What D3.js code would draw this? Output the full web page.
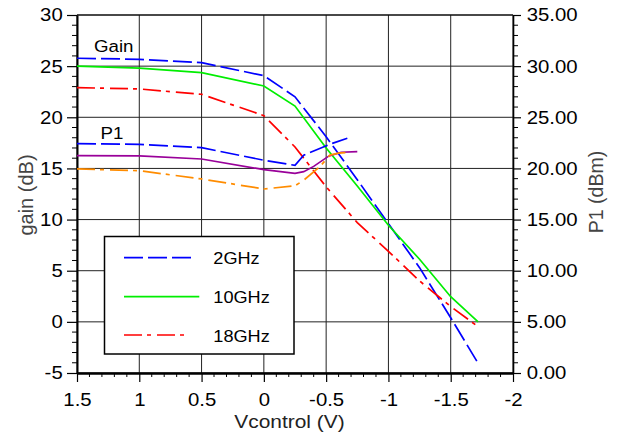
<!DOCTYPE html>
<html>
<head>
<meta charset="utf-8">
<script src="https://cdn.jsdelivr.net/npm/d3@7"></script>
<style>
  body { margin: 0; background: #fff; }
  svg { display: block; font-family: "Liberation Sans", Arial, sans-serif; }
</style>
</head>
<body>
<svg width="622" height="439"></svg>
<script>
// gain curves (left axis, dB), sampled at the same control voltages
const vGain = [1.5, 1, 0.5, 0, -0.25, -0.5, -0.75, -1, -1.25, -1.5, -1.72];
const gain2 = [25.77, 25.67, 25.34, 24.07, 22.0, 18.1, 13.9, 9.6, 5.3, 0.4, -4.05];
const gain10 = [25.0, 24.8, 24.36, 23.06, 21.1, 17.0, 13.28, 9.44, 6.12, 2.46, 0.0];
const gain18 = [22.9, 22.77, 22.25, 20.16, 17.1, 13.2, 9.7, 6.9, 4.0, 1.5, -0.47];

// P1 curves (right axis, dBm)
const vP1_2 = [1.5, 1, 0.5, 0, -0.25, -0.32, -0.55, -0.67];
const p1_2 = [22.42, 22.36, 22.03, 20.8, 20.3, 21.3, 22.45, 22.95];
const vP1_10 = [1.5, 1, 0.5, 0, -0.25, -0.32, -0.4, -0.52, -0.62, -0.75];
const p1_10 = [21.25, 21.22, 20.92, 19.88, 19.52, 19.68, 20.2, 21.2, 21.58, 21.64];
const vP1_18 = [1.5, 1, 0.5, 0, -0.25, -0.32, -0.45, -0.53, -0.6, -0.67];
const p1_18 = [19.95, 19.78, 18.97, 17.99, 18.3, 18.85, 20.17, 21.3, 21.5, 21.55];

const xTicks = [1.5, 1, 0.5, 0, -0.5, -1, -1.5, -2];
const gainTicks = [-5, 0, 5, 10, 15, 20, 25, 30];
const p1Ticks = [0, 5, 10, 15, 20, 25, 30, 35];
const legendLabels = ['2GHz', '10GHz', '18GHz'];

const blue = '#0000ff', green = '#00ee00', red = '#ff0000';
const purple = '#990099', orange = '#ff8c00';
const dashed = '19,5', dashDot = '18,5,4,6';

let svg = d3.select('svg');

let x = d3.scaleLinear().domain([1.5, -2]).range([77, 513]);
let yL = d3.scaleLinear().domain([-5, 30]).range([373, 15]);
let yR = d3.scaleLinear().domain([0, 35]).range([373, 15]);

// grid
let grid = svg.append('g').attr('stroke', '#222').attr('stroke-width', 1);
xTicks.forEach(v => {
  grid.append('line').attr('x1', x(v)).attr('x2', x(v)).attr('y1', yL(30)).attr('y2', yL(-5));
});
gainTicks.forEach(v => {
  grid.append('line').attr('x1', x(1.5)).attr('x2', x(-2)).attr('y1', yL(v)).attr('y2', yL(v));
});

// minor ticks
let minor = svg.append('g').attr('stroke', '#000').attr('stroke-width', 1);
d3.range(-5, 31).filter(v => v % 5 !== 0).forEach(v => {
  minor.append('line').attr('x1', x(1.5) - 5).attr('x2', x(1.5)).attr('y1', yL(v)).attr('y2', yL(v));
});
d3.range(0, 36).filter(v => v % 5 !== 0).forEach(v => {
  minor.append('line').attr('x1', x(-2)).attr('x2', x(-2) + 5).attr('y1', yR(v)).attr('y2', yR(v));
});
d3.range(-20, 16).filter(v => v % 5 !== 0).forEach(v => {
  minor.append('line').attr('x1', x(v / 10)).attr('x2', x(v / 10)).attr('y1', yL(-5)).attr('y2', yL(-5) + 4);
});

// axes
function styleAxis(g, width) {
  g.select('.domain').attr('stroke', '#000').attr('stroke-width', width);
  g.selectAll('.tick line').attr('stroke', '#000').attr('stroke-width', 1.2);
  g.selectAll('.tick text')
    .attr('fill', '#000')
    .attr('font-size', '18.5px')
    .attr('transform', 'scale(1.1,1)');
}

svg.append('g')
  .attr('transform', `translate(${x(1.5)},0)`)
  .call(d3.axisLeft(yL).tickValues(gainTicks).tickFormat(d => String(d)).tickSize(10).tickSizeOuter(0).tickPadding(3))
  .call(g => styleAxis(g, 2))
  .attr('font-family', null);

svg.append('g')
  .attr('transform', `translate(${x(-2)},0)`)
  .call(d3.axisRight(yR).tickValues(p1Ticks).tickFormat(d3.format('.2f')).tickSize(8).tickSizeOuter(0).tickPadding(4.5))
  .call(g => styleAxis(g, 1.6))
  .attr('font-family', null);

svg.append('g')
  .attr('transform', `translate(0,${yL(-5)})`)
  .call(d3.axisBottom(x).tickValues(xTicks).tickFormat(d => String(d)).tickSize(9).tickSizeOuter(0).tickPadding(10.5))
  .call(g => styleAxis(g, 2.4))
  .attr('font-family', null);

// top border
svg.append('line')
  .attr('x1', x(1.5)).attr('x2', x(-2)).attr('y1', yL(30)).attr('y2', yL(30))
  .attr('stroke', '#000').attr('stroke-width', 1.2);

// axis titles
svg.append('text')
  .attr('transform', 'translate(289.5,428) scale(1.1,1)')
  .attr('text-anchor', 'middle').attr('font-size', '19px').attr('fill', '#222')
  .text('Vcontrol (V)');
svg.append('text')
  .attr('transform', 'translate(33,195) rotate(-90)')
  .attr('text-anchor', 'middle').attr('font-size', '20px').attr('fill', '#444')
  .text('gain (dB)');
svg.append('text')
  .attr('transform', 'translate(603,192) rotate(-90)')
  .attr('text-anchor', 'middle').attr('font-size', '19.5px').attr('fill', '#444')
  .text('P1 (dBm)');

// curve labels
svg.append('text').attr('transform', 'translate(94,51.5) scale(1.1,1)')
  .attr('font-size', '17px').attr('fill', '#000').text('Gain');
svg.append('text').attr('transform', 'translate(100.5,139) scale(1.1,1)')
  .attr('font-size', '17px').attr('fill', '#000').text('P1');

// legend
let legend = svg.append('g');
legend.append('rect')
  .attr('x', 104.5).attr('y', 236.5).attr('width', 189.5).attr('height', 117.5)
  .attr('fill', '#fff').attr('stroke', '#000').attr('stroke-width', 1.5);
let legendStyles = [
  { color: blue, dash: dashed, y: 257.7, x2: 192.5 },
  { color: green, dash: null, y: 296.7, x2: 199.3 },
  { color: red, dash: dashDot, y: 335, x2: 190 }
];
legendStyles.forEach((s, i) => {
  legend.append('line')
    .attr('x1', 124).attr('x2', s.x2).attr('y1', s.y).attr('y2', s.y)
    .attr('stroke', s.color).attr('stroke-width', 1.7)
    .attr('stroke-dasharray', s.dash);
  legend.append('text')
    .attr('transform', `translate(213.3,${s.y + 6.5}) scale(1.1,1)`)
    .attr('font-size', '16.5px').attr('fill', '#000')
    .text(legendLabels[i]);
});

// curves
let series = [
  { v: vGain, val: gain2, y: yL, color: blue, dash: dashed },
  { v: vGain, val: gain10, y: yL, color: green, dash: null },
  { v: vGain, val: gain18, y: yL, color: red, dash: dashDot },
  { v: vP1_2, val: p1_2, y: yR, color: blue, dash: dashed },
  { v: vP1_10, val: p1_10, y: yR, color: purple, dash: null },
  { v: vP1_18, val: p1_18, y: yR, color: orange, dash: dashDot }
];

series.forEach(s => {
  let line = d3.line()
    .x((d, i) => x(s.v[i]))
    .y(d => s.y(d));
  svg.append('path')
    .attr('d', line(s.val))
    .attr('fill', 'none')
    .attr('stroke', s.color)
    .attr('stroke-width', 1.7)
    .attr('stroke-dasharray', s.dash);
});
</script>
</body>
</html>
